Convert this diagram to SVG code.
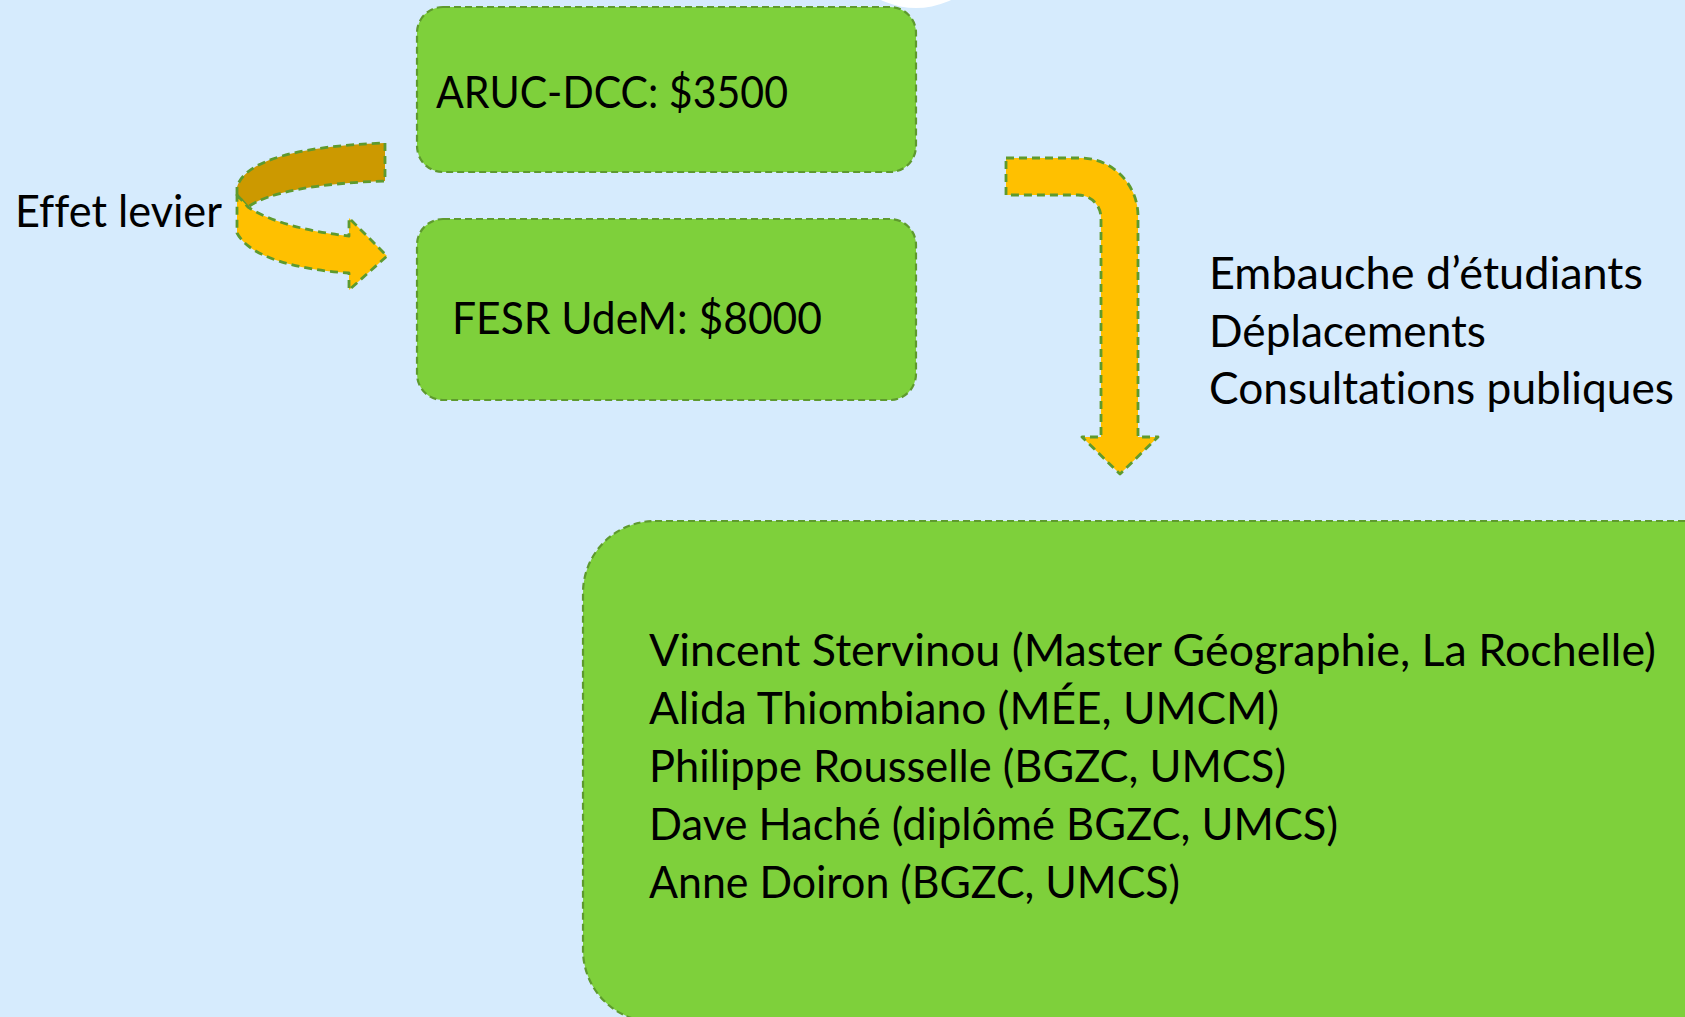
<svg xmlns="http://www.w3.org/2000/svg" width="1685" height="1017" viewBox="0 0 1685 1017">
<style>
.box{fill:#7ED03B;stroke:#5E9A2E;stroke-width:2.2;stroke-dasharray:7 4}
.arr{stroke:#5E9A2E;stroke-width:2.8;stroke-dasharray:8 5;stroke-linejoin:round}
.t{font-family:Lato,"Open Sans","Liberation Sans",sans-serif;font-size:45px;fill:#000;font-variant-ligatures:none}
</style>
<rect x="0" y="0" width="1685" height="1017" fill="#D6EBFD"/>
<circle cx="916" cy="-73" r="81" fill="#FFFFFF"/>
<g id="connectors">
<path class="arr" fill="#CC9900" d="M385,143 L385,181 C320,183 268,192 248,207 L237,195 L237,187 C245,160 300,146 385,143 Z"/>
<path class="arr" fill="#FFC000" d="M237,195 L248,207 C270,222 310,232 349,236 L349,218 L387,256 L349,290 L349,273 C300,270 250,258 237,233 Z"/>
<path class="arr" fill="#FFC000" d="M1006,158 L1080,158 A58,58 0 0 1 1138,216 L1138,437 L1158,437 L1120,474 L1082,437 L1101,437 L1101,218 A23,23 0 0 0 1078,195 L1006,195 Z"/>
</g>
<g id="label-levier">
<text class="t" x="15" y="227" textLength="207" lengthAdjust="spacingAndGlyphs">Effet levier</text>
</g>
<g id="node-aruc">
<rect class="box" x="417" y="7" width="499" height="165" rx="26"/>
<text class="t" x="436" y="108" textLength="352" lengthAdjust="spacingAndGlyphs">ARUC-DCC: $3500</text>
</g>
<g id="node-fesr">
<rect class="box" x="417" y="219" width="499" height="181" rx="26"/>
<text class="t" x="452" y="334" textLength="370" lengthAdjust="spacingAndGlyphs">FESR UdeM: $8000</text>
</g>
<g id="label-usage">
<text class="t" x="1209" y="289" textLength="434" lengthAdjust="spacingAndGlyphs">Embauche d’étudiants</text>
<text class="t" x="1209" y="347" textLength="277" lengthAdjust="spacingAndGlyphs">Déplacements</text>
<text class="t" x="1209" y="404" textLength="465" lengthAdjust="spacingAndGlyphs">Consultations publiques</text>
</g>
<g id="node-students">
<rect class="box" x="583" y="521" width="1200" height="501" rx="72"/>
<text class="t" x="649" y="666" textLength="1007" lengthAdjust="spacingAndGlyphs">Vincent Stervinou (Master Géographie, La Rochelle)</text>
<text class="t" x="649" y="724" textLength="630" lengthAdjust="spacingAndGlyphs">Alida Thiombiano (MÉE, UMCM)</text>
<text class="t" x="649" y="782" textLength="637" lengthAdjust="spacingAndGlyphs">Philippe Rousselle (BGZC, UMCS)</text>
<text class="t" x="649" y="840" textLength="689" lengthAdjust="spacingAndGlyphs">Dave Haché (diplômé BGZC, UMCS)</text>
<text class="t" x="649" y="898" textLength="531" lengthAdjust="spacingAndGlyphs">Anne Doiron (BGZC, UMCS)</text>
</g>
</svg>
